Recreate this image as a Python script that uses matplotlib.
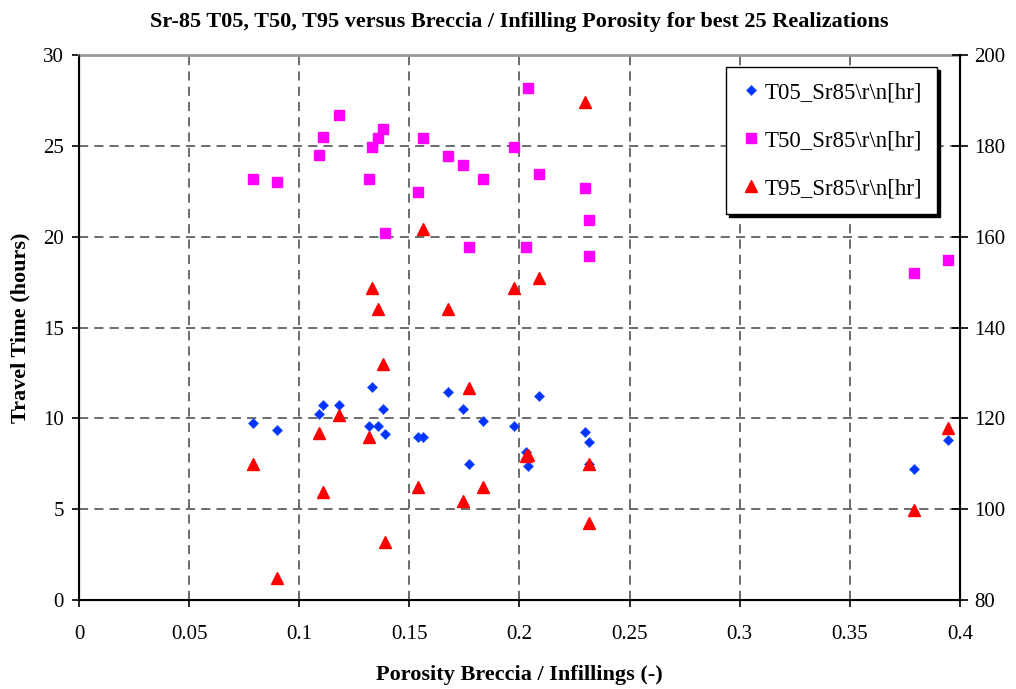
import numpy as np
from matplotlib import pyplot as plt

# Porosidad brecha / relleno y tiempos de viaje Sr-85 (25 realizaciones)
porosidad = [0.079, 0.090, 0.109, 0.111, 0.118, 0.1318, 0.133, 0.1356, 0.1382, 0.139,
             0.1539, 0.156, 0.1677, 0.1742, 0.1771, 0.1836, 0.1977, 0.2030, 0.2037, 0.209,
             0.2296, 0.2314, 0.2316, 0.379, 0.3947]
t05 = [9.74, 9.36, 10.24, 10.73, 10.73, 9.58, 11.72, 9.58, 10.5, 9.12,
       8.99, 8.99, 11.47, 10.5, 7.49, 9.85, 9.58, 8.13, 7.36, 11.21,
       9.23, 8.71, 7.49, 7.23, 8.84]
t50 = [23.2, 23.0, 24.5, 25.5, 26.7, 23.2, 24.95, 25.46, 25.96, 20.2,
       22.45, 25.46, 24.45, 23.96, 19.45, 23.2, 24.95, 19.45, 28.2, 23.45,
       22.7, 20.95, 18.95, 17.98, 18.71]
# T95 en el eje secundario
t95 = [109.9, 84.9, 116.8, 103.9, 120.8, 116.0, 148.8, 144.0, 131.9, 92.8,
       105.0, 161.8, 144.0, 101.9, 126.8, 105.0, 148.8, 111.8, 112.0, 150.9,
       189.7, 110.0, 96.9, 99.8, 117.9]

plt.rcParams['font.family'] = ['Liberation Serif', 'DejaVu Serif']

fig = plt.figure(figsize=(10.16, 6.89), dpi=100)
ax1 = fig.add_axes([0.0778, 0.129, 0.867, 0.791])
ax2 = ax1.twinx()

h1, = ax1.plot(porosidad, t05, 'D', color='#0033FF', ms=5, mec='#2255FF', mew=0.5,
               linestyle='none', label='T05_Sr85\\r\\n[hr]')
h2, = ax1.plot(porosidad, t50, 's', color='#FF00FF', ms=7.5, mec='#FF00FF',
               linestyle='none', label='T50_Sr85\\r\\n[hr]')
h3, = ax2.plot(porosidad, t95, '^', color='#FF0000', ms=8, mec='#FF0000',
               linestyle='none', label='T95_Sr85\\r\\n[hr]')

ax1.set_xlim(0, 0.4)
ax1.set_ylim(0, 30)
ax2.set_ylim(80, 200)
ax1.set_xticks(np.arange(0, 0.401, 0.05))
ax1.set_xticklabels(['0', '0.05', '0.1', '0.15', '0.2', '0.25', '0.3', '0.35', '0.4'])
ax1.set_yticks(np.arange(0, 31, 5))
ax2.set_yticks(np.arange(80, 201, 20))

ax1.grid(True, linestyle=(0, (6, 4)), color='#444444', linewidth=1.1)
ax1.tick_params(labelsize=15, direction='out', length=5, width=1.2, pad=6)
ax1.tick_params(axis='x', pad=13)
ax2.tick_params(labelsize=15, direction='inout', length=12, width=1.2, pad=4)

for s in ['left', 'bottom']:
    ax1.spines[s].set_linewidth(1.5)
ax1.spines['top'].set_color('#999999')
ax1.spines['top'].set_linewidth(2)
ax2.spines['top'].set_visible(False)
ax2.spines['right'].set_linewidth(1.5)

ax1.set_xlabel('Porosity Breccia / Infillings (-)', fontsize=16, fontweight='bold', labelpad=15)
ax1.set_ylabel('Travel Time (hours)', fontsize=16, fontweight='bold', labelpad=9)
ax1.set_title('Sr-85 T05, T50, T95 versus Breccia / Infilling Porosity for best 25 Realizations',
              fontsize=16, fontweight='bold', pad=20)

leg = ax2.legend(handles=[h1, h2, h3], loc='upper right', bbox_to_anchor=(0.974, 0.978),
                 borderaxespad=0, fontsize=16.5, frameon=True, fancybox=False,
                 shadow={'color': 'black', 'alpha': 1}, edgecolor='black', framealpha=1,
                 labelspacing=1.18, borderpad=0.65, handletextpad=0.13, handlelength=0.88)
leg.get_frame().set_linewidth(1)

fig.savefig('out.png', dpi=100)
